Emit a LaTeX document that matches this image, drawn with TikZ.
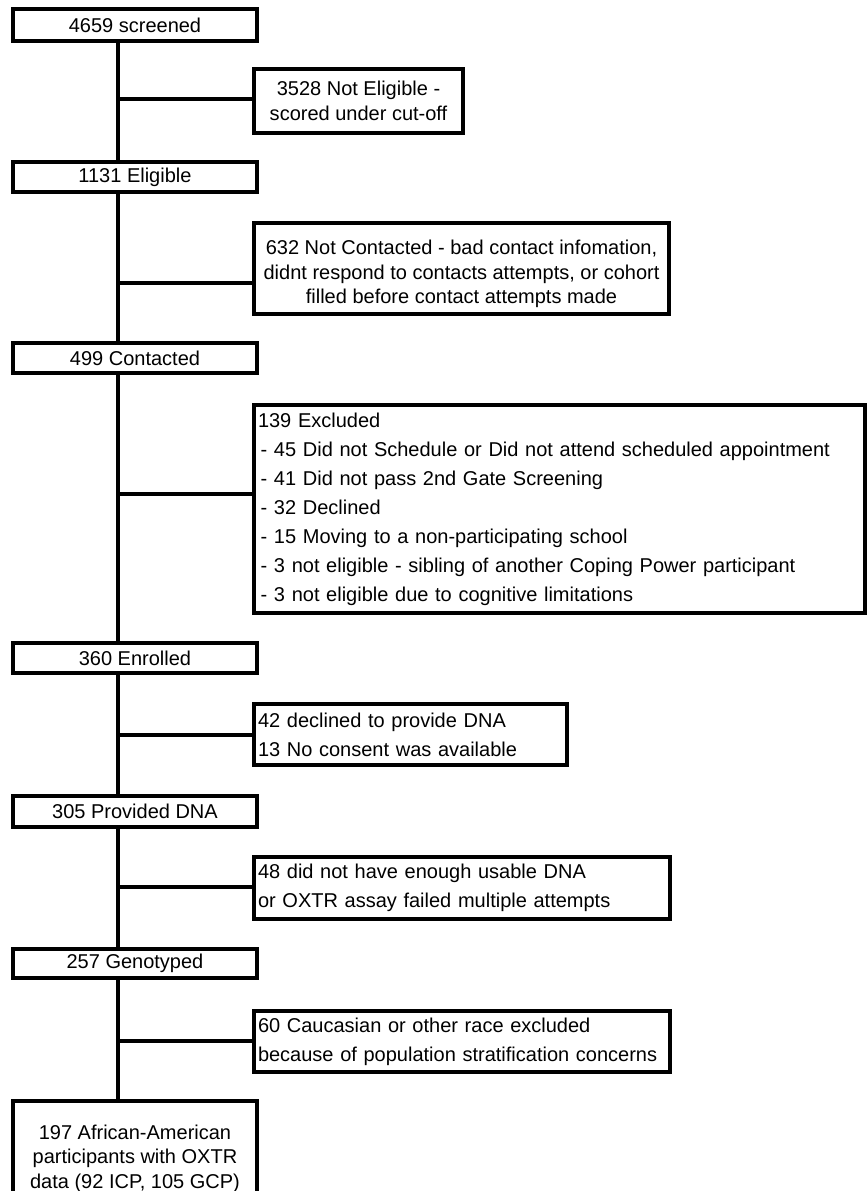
\documentclass[tikz,border=0pt]{standalone}
\usepackage{fontspec}
\setmainfont{Liberation Sans}
\usepackage{tikz}
\usetikzlibrary{calc}

\begin{document}
\begin{tikzpicture}[x=0.75pt, y=-0.75pt,
  box/.style={draw, line width=2.5pt, minimum width=183pt, minimum height=22.5pt, inner sep=0pt, font=\fontsize{15pt}{18.4pt}\selectfont},
  side/.style={draw, line width=2.5pt, align=center, inner sep=0pt, font=\fontsize{15pt}{18.8pt}\selectfont},
  list/.style={draw, line width=2.5pt, align=left, inner xsep=3pt, inner ysep=0pt, font=\fontsize{15pt}{21.75pt}\selectfont},
  link/.style={line width=2.5pt}]
  \clip (0,0) rectangle (867,1191);
  \coordinate (sp) at (118,0);

  % Nodes
  \node (scr)   [box, minimum height=24pt]    at (135,25)    {4659 screened};
  \node (elig)  [box]                         at (135,177)   {1131 Eligible};
  \node (cont)  [box]                         at (135,358)   {499 Contacted};
  \node (enr)   [box]                         at (135,658)   {360 Enrolled};
  \node (dna)   [box, minimum height=23.25pt] at (135,811.5) {305 Provided DNA};
  \node (geno)  [box, minimum height=21.75pt] at (135,963.5) {257 Genotyped};
  \node (final) [box, minimum height=82.5pt, align=center] at (135,1156)
    {\rule{0pt}{15pt}197 African-American\\participants with OXTR\\data (92 ICP, 105 GCP)};

  \node (nel)   [side, minimum width=156.75pt, minimum height=48pt] at (358.5,101)
    {3528 Not Eligible -\\scored under cut-off};
  \node (ncont) [side, minimum width=311.25pt, minimum height=68.25pt, font=\fontsize{15pt}{18.4pt}\selectfont] at (461.5,268.5)
    {\rule{0pt}{19pt}632 Not Contacted - bad contact infomation,\\didnt respond to contacts attempts, or cohort\\filled before contact attempts made};
  \node (excl)  [list, text width=452.25pt, minimum height=156pt] at (559.5,509)
    {139 Excluded\\
     \hspace*{2pt}- 45 Did not Schedule or Did not attend scheduled appointment\\
     \hspace*{2pt}- 41 Did not pass 2nd Gate Screening\\
     \hspace*{2pt}- 32 Declined\\
     \hspace*{2pt}- 15 Moving to a non-participating school\\
     \hspace*{2pt}- 3 not eligible - sibling of another Coping Power participant\\
     \hspace*{2pt}- 3 not eligible due to cognitive limitations};
  \node (nodna) [list, text width=228.75pt, minimum height=45.75pt] at (410.5,734.5)
    {42 declined to provide DNA\\13 No consent was available};
  \node (fail)  [list, text width=306pt, minimum height=46.5pt] at (462,888)
    {48 did not have enough usable DNA\\or OXTR assay failed multiple attempts};
  \node (race)  [list, text width=306pt, minimum height=45.75pt] at (462,1041.5)
    {60 Caucasian or other race excluded\\because of population stratification concerns};

  % Edges
  \foreach \a/\b in {scr/elig, elig/cont, cont/enr, enr/dna, dna/geno, geno/final}
    \draw[link] (\a.south -| sp) -- (\b.north -| sp);
  \foreach \b/\y in {nel/99, ncont/283, excl/494, nodna/735, fail/887, race/1041}
    \draw[link] (sp |- 0,\y) -- (\b.west |- 0,\y);

\end{tikzpicture}
\end{document}
